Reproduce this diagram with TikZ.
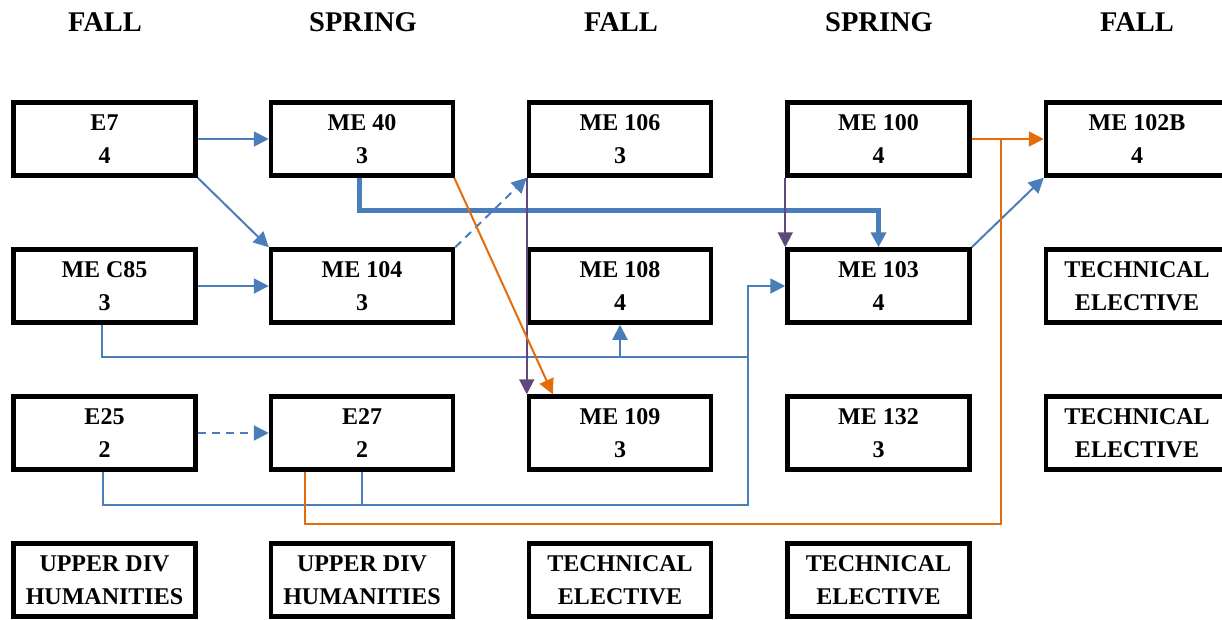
\documentclass[tikz,border=0pt]{standalone}
\usepackage{fontspec}
\setmainfont{Liberation Serif}
\usetikzlibrary{arrows.meta,calc}
\definecolor{cblue}{HTML}{4A7EBB}
\definecolor{corange}{HTML}{E46C0A}
\definecolor{cpurple}{HTML}{5F497A}
\begin{document}
\begin{tikzpicture}[x=1pt,y=-1pt,
  box/.style={draw, line width=4.5pt, minimum width=182pt, minimum height=73pt, inner sep=0pt, align=center, font=\fontsize{24}{33}\selectfont\bfseries},
  hdr/.style={inner sep=0pt, font=\fontsize{28.5}{30}\selectfont\bfseries},
  tip/.style={-{Triangle[length=15pt,width=15pt]}},
  bl/.style={draw=cblue, line width=2pt},
  bthick/.style={draw=cblue, line width=5pt},
  orl/.style={draw=corange, line width=2pt},
  pul/.style={draw=cpurple, line width=2pt},
  dsh/.style={dash pattern=on 8pt off 6pt}]
\useasboundingbox (0,0) rectangle (1222,619);
\clip (0,0) rectangle (1222,619);
% headers
\node[hdr] (h1) at (105,22) {FALL};
\node[hdr] (h2) at (363,22) {SPRING};
\node[hdr] (h3) at (621,22) {FALL};
\node[hdr] (h4) at (879,22) {SPRING};
\node[hdr] (h5) at (1137,22) {FALL};
% row 1
\node[box] (e7) at (104.5,139) {E7\\4};
\node[box] (me40) at (362,139) {ME 40\\3};
\node[box] (me106) at (620,139) {ME 106\\3};
\node[box] (me100) at (878.5,139) {ME 100\\4};
\node[box] (me102b) at (1137,139) {ME 102B\\4};
% row 2
\node[box] (mec85) at (104.5,286) {ME C85\\3};
\node[box] (me104) at (362,286) {ME 104\\3};
\node[box] (me108) at (620,286) {ME 108\\4};
\node[box] (me103) at (878.5,286) {ME 103\\4};
\node[box] (te1) at (1137,286) {TECHNICAL\\ELECTIVE};
% row 3
\node[box] (e25) at (104.5,433) {E25\\2};
\node[box] (e27) at (362,433) {E27\\2};
\node[box] (me109) at (620,433) {ME 109\\3};
\node[box] (me132) at (878.5,433) {ME 132\\3};
\node[box] (te2) at (1137,433) {TECHNICAL\\ELECTIVE};
% row 4
\node[box] (ud1) at (104.5,580) {UPPER DIV\\HUMANITIES};
\node[box] (ud2) at (362,580) {UPPER DIV\\HUMANITIES};
\node[box] (te3) at (620,580) {TECHNICAL\\ELECTIVE};
\node[box] (te4) at (878.5,580) {TECHNICAL\\ELECTIVE};
% junction coordinates
\coordinate (b1) at (748,357);
\coordinate (b2) at (748,505);
\coordinate (o1) at (1001,524);
\coordinate (o2) at (1001,139);
% blue connectors
\draw[bl,tip] (e7.east) -- (me40.west);
\draw[bl,tip] (e7.south east) -- (me104.north west);
\draw[bl,tip] (mec85.east) -- (me104.west);
\draw[bl,tip,dsh] (me104.north east) -- (me106.south west);
\draw[bl,tip,dsh] (e25.east) -- (e27.west);
\draw[bl,tip] (me103.north east) -- (me102b.south west);
\draw[bthick,tip] ([xshift=-3pt]me40.south) -- ++(0,32.25) -| (me103.north);
\draw[bl,tip] ([xshift=-2.5pt]mec85.south) |- (b1) |- (me103.west);
\draw[bl,tip] (me108.south |- b1) -- (me108.south);
\draw[bl] ([xshift=-1.5pt]e25.south) |- (b2) -- (b1);
\draw[bl] (e27.south) -- (e27.south |- b2);
% purple connectors
\draw[pul,tip] (me106.south west) -- (me109.north west);
\draw[pul,tip] (me100.south west) -- (me103.north west);
% orange connectors
\draw[orl,tip] ([xshift=-1pt]me40.south east) -- ([xshift=26pt]me109.north west);
\draw[orl,tip] (me100.east) -- (me102b.west);
\draw[orl] ([xshift=-57pt]e27.south) |- (o1) -- (o2);
\end{tikzpicture}
\end{document}
